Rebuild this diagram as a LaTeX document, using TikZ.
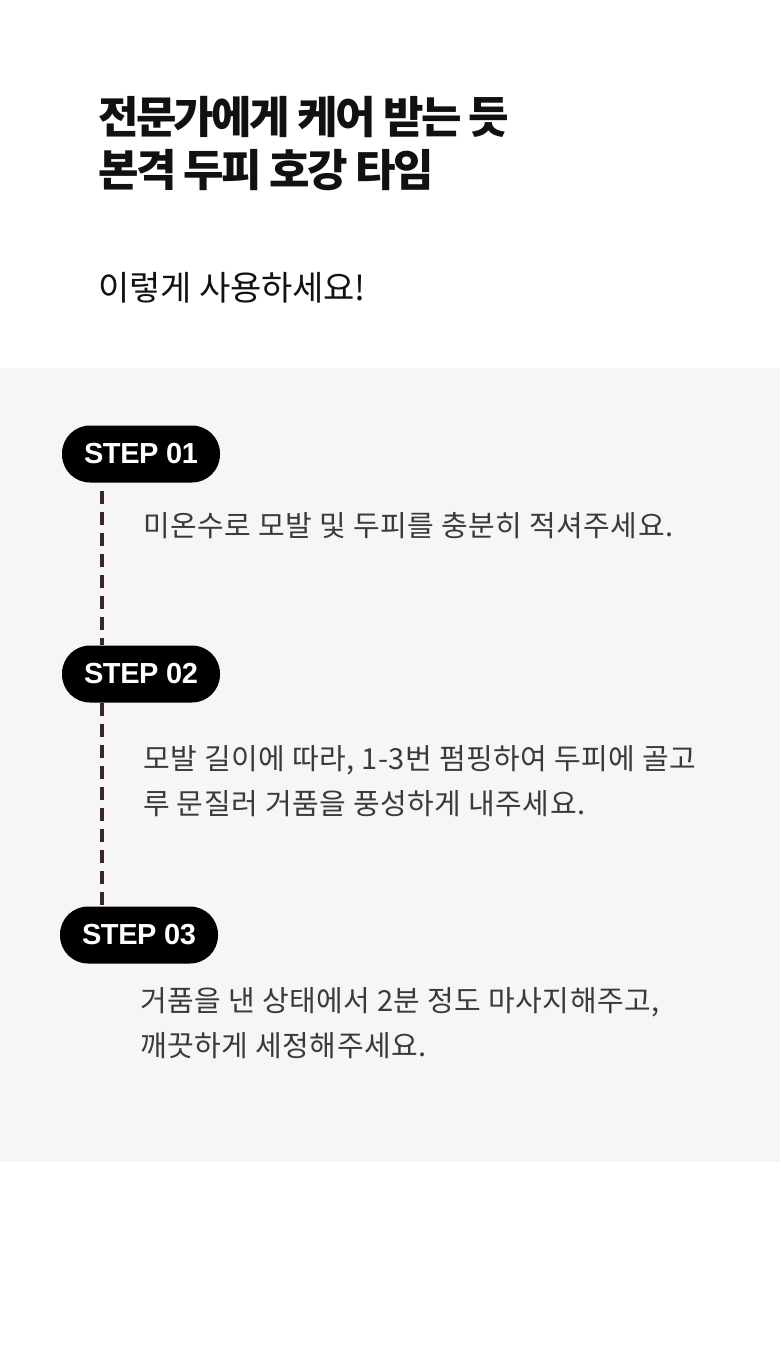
\documentclass[tikz,border=0pt]{standalone}
\usepackage{fontspec}
\usepackage{xcolor}
\usepackage{tikz}
\usetikzlibrary{positioning}
\newfontfamily\krtitle{Noto Sans CJK KR}[LetterSpace=-6]
\newfontfamily\krlead{Noto Sans CJK KR}[LetterSpace=-0.5]
\newfontfamily\krbody{Noto Sans CJK KR}[LetterSpace=1.8]
\newfontfamily\badgefont{Liberation Sans}[LetterSpace=-1.5]
\definecolor{panelgray}{RGB}{246,246,246}
\definecolor{titleink}{RGB}{17,17,17}
\definecolor{bodyink}{RGB}{58,58,58}
\definecolor{linkbrown}{RGB}{60,38,38}

\begin{document}
\begin{tikzpicture}[
    x=1pt, y=-1pt,
    node distance=6pt and 10pt,
    title/.style={anchor=west, align=left, inner sep=0pt, text=titleink,
                  font={\krtitle\bfseries\fontsize{44pt}{53pt}\selectfont}},
    lead/.style={anchor=west, inner sep=0pt, text=titleink,
                 font={\krlead\fontsize{34pt}{40pt}\selectfont}},
    badge/.style={rectangle, rounded corners=28pt, fill=black, text=white,
                  minimum width=158pt, minimum height=57pt, inner sep=0pt,
                  font={\badgefont\bfseries\fontsize{29pt}{30pt}\selectfont}},
    desc/.style={anchor=west, align=left, inner sep=0pt, text=bodyink,
                 font={\krbody\fontsize{29pt}{45pt}\selectfont}},
    link/.style={linkbrown, line width=4pt, dash pattern=on 13pt off 8pt}
  ]
    \useasboundingbox (0,0) rectangle (780,1360);
    \fill[white] (0,0) rectangle (780,1360);
    \fill[panelgray] (0,368) rectangle (780,1162);

    % heading
    \node[title] (head) at (98,144) {전문가에게 케어 받는 듯\\본격 두피 호강 타임};
    \node[lead]  (howto) at (98,288) {이렇게 사용하세요!};

    % steps
    \node[badge] (s1) at (141,454) {STEP 01};
    \node[badge] (s2) at (141,674) {STEP 02};
    \node[badge] (s3) at (139,935) {STEP 03};

    \node[desc] (d1) at (143,526) {미온수로 모발 및 두피를 충분히 적셔주세요.};
    \node[desc] (d2) at (143,781) {모발 길이에 따라, 1-3번 펌핑하여 두피에 골고\\루 문질러 거품을 풍성하게 내주세요.};
    \node[desc] (d3) at (140,1023) {거품을 낸 상태에서 2분 정도 마사지해주고,\\깨끗하게 세정해주세요.};

    \draw[link] ([xshift=40pt,yshift=-8pt]s1.south west) -- ([xshift=40pt]s2.north west);
    \draw[link] ([xshift=40pt]s2.south west) -- ([xshift=42pt]s3.north west);
\end{tikzpicture}
\end{document}
